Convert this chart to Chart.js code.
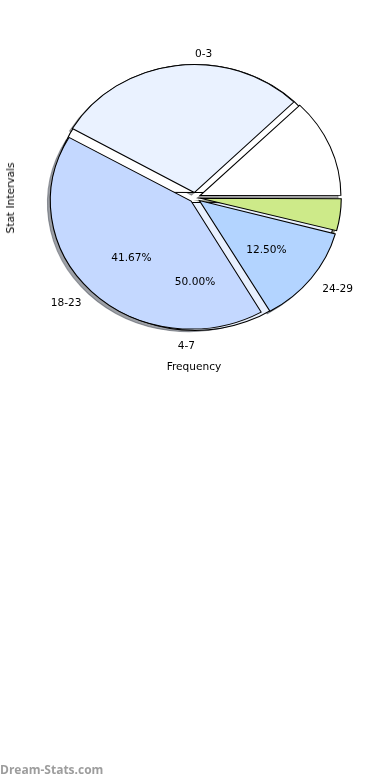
<!DOCTYPE html>
<html>
<head>
<meta charset="utf-8">
<script src="https://cdn.jsdelivr.net/npm/chart.js@4.4.1/dist/chart.umd.min.js"></script>
<style>
  html, body { margin: 0; padding: 0; background: #fff; }
  #wrap { position: relative; width: 390px; height: 780px; overflow: hidden; font-family: "DejaVu Sans", sans-serif; color: #000; }
  #wrap canvas { position: absolute; left: 0; top: 0; }
  .ytitle { position: absolute; left: 10px; top: 198px; transform: translate(-50%, -50%) rotate(-90deg); font-size: 10.6px; white-space: nowrap; }
  .xtitle { position: absolute; left: 194px; top: 366px; transform: translate(-50%, -50%); font-size: 10.6px; white-space: nowrap; }
  .mark { position: absolute; left: 0; top: 762px; line-height: 15px; font-family: "Open Sans", sans-serif; font-weight: 700; font-size: 12px; color: #9d9d9d; }
</style>
</head>
<body>
<div id="wrap">
  <canvas id="shadowLayer" width="390" height="780"></canvas>
  <canvas id="backLayer" width="390" height="780"></canvas>
  <canvas id="frontLayer" width="390" height="780"></canvas>
  <div class="ytitle">Stat Intervals</div>
  <div class="xtitle">Frequency</div>
  <div class="mark">Dream-Stats.com</div>
</div>
<script>
// front pie, listed clockwise starting at 3 o'clock
const frontLabels = ['', '24-29', '18-23', '', ''];
const frontValues = [1, 3, 10, 7, 3];
const frontColors = ['#cdea89', '#b3d4ff', '#c4d8ff', '#eaf2ff', '#ffffff'];

// pie lying underneath, listed clockwise starting at 9 o'clock
const backLabels = ['0-3', '4-7'];
const backValues = [12, 12];
const backColors = ['#ffffff', '#e8f0fe'];
const backPctShown = [false, true];

const RADIUS = 128;
const EXPLODE = 5;        // px the wedges are pulled out
const SQUASH_X = 1.1;     // the original axes were not equal, so the pie is a bit wide
const SHADOW_DX = -2.8;
const SHADOW_DY = 2.6;
const TEXT_DY = 2.5;

function shadowColor(hex) {
  const n = parseInt(hex.slice(1), 16);
  const r = Math.round(((n >> 16) & 255) * 0.3);
  const g = Math.round(((n >> 8) & 255) * 0.3);
  const b = Math.round((n & 255) * 0.3);
  return `rgba(${r},${g},${b},0.5)`;
}

// stretch the pie sideways around its centre (and shift it for the shadow layer).
// chart.js also grows an offset arc's radius a little, so take that back out here.
const squashPlugin = {
  id: 'squash',
  beforeDatasetsDraw(chart, args, opts) {
    const a = chart.chartArea;
    const cx = (a.left + a.right) / 2;
    const cy = (a.top + a.bottom) / 2;
    const ctx = chart.ctx;
    chart.getDatasetMeta(0).data.forEach(arc => {
      const fix = 1 - Math.sin(Math.min(Math.PI, arc.circumference));
      arc.outerRadius = RADIUS - EXPLODE * fix;
    });
    ctx.save();
    ctx.translate(cx + (opts.dx || 0), cy + (opts.dy || 0));
    ctx.scale(SQUASH_X, 1);
    ctx.translate(-cx, -cy);
  },
  afterDatasetsDraw(chart) {
    chart.ctx.restore();
  }
};

function drawPieText(ctx, chart, labels, pctShown) {
  const meta = chart.getDatasetMeta(0);
  const values = chart.data.datasets[0].data;
  const total = values.reduce((s, v) => s + v, 0);
  meta.data.forEach((arc, i) => {
    const p = arc.getProps(['x', 'y', 'startAngle', 'endAngle']);
    const mid = (p.startAngle + p.endAngle) / 2;
    const turns = ((-mid / (2 * Math.PI)) % 1 + 1) % 1;
    const theta = 2 * Math.PI * turns;
    const ux = Math.cos(theta), uy = Math.sin(theta);
    if (labels[i]) {
      const d = EXPLODE + 1.1 * RADIUS;
      ctx.textAlign = ux > 0 ? 'left' : 'right';
      ctx.fillText(labels[i], p.x + SQUASH_X * d * ux, p.y - d * uy + TEXT_DY);
    }
    if (pctShown[i]) {
      const d = EXPLODE + 0.6 * RADIUS;
      ctx.textAlign = 'center';
      const pct = (values[i] / total * 100).toFixed(2) + '%';
      ctx.fillText(pct, p.x + SQUASH_X * d * ux, p.y - d * uy + TEXT_DY);
    }
  });
}

function pieConfig(values, colors, rotation, squash, border, extraPlugins) {
  return {
    type: 'pie',
    data: {
      labels: values.map((v, i) => 'w' + i),
      datasets: [{
        data: values,
        backgroundColor: colors,
        borderColor: border || '#000',
        borderWidth: 1,
        borderJoinStyle: 'miter',
        offset: EXPLODE * 4,   // chart.js moves an arc by offset / 4
        radius: RADIUS
      }]
    },
    options: {
      responsive: false,
      animation: false,
      events: [],
      rotation: rotation,
      layout: { padding: { top: 0, left: 0, right: 0, bottom: 385 } },
      plugins: {
        legend: { display: false },
        tooltip: { enabled: false },
        squash: squash
      }
    },
    plugins: [squashPlugin].concat(extraPlugins || [])
  };
}

// shadows of the front wedges
const shadowCols = frontColors.map(shadowColor);
new Chart(document.getElementById('shadowLayer'),
  pieConfig(frontValues, shadowCols, 90, { dx: SHADOW_DX, dy: SHADOW_DY }, shadowCols));

// the pie underneath, seen through the gaps
const backChart = new Chart(document.getElementById('backLayer'),
  pieConfig(backValues, backColors, 270, { dx: 0, dy: 0 }));

const textPlugin = {
  id: 'pieText',
  afterDraw(chart) {
    const ctx = chart.ctx;
    ctx.save();
    ctx.font = '10.6px "DejaVu Sans"';
    ctx.fillStyle = '#000';
    ctx.textBaseline = 'middle';
    drawPieText(ctx, backChart, backLabels, backPctShown);
    drawPieText(ctx, chart, frontLabels, frontLabels.map(l => l !== ''));
    ctx.restore();
  }
};

new Chart(document.getElementById('frontLayer'),
  pieConfig(frontValues, frontColors, 90, { dx: 0, dy: 0 }, '#000', [textPlugin]));
</script>
</body>
</html>
